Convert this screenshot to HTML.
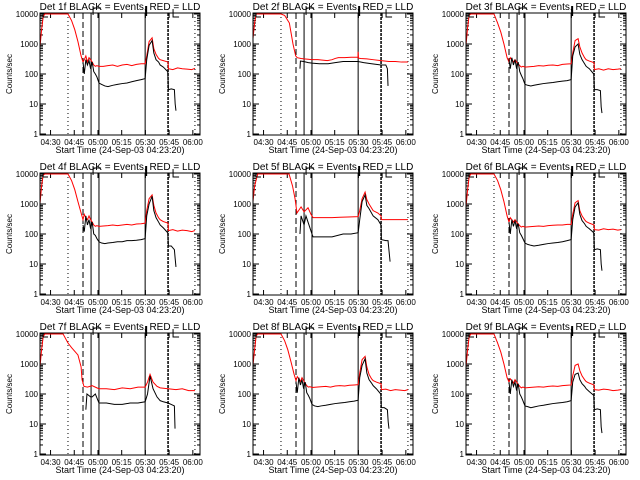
<!DOCTYPE html>
<html><head><meta charset="utf-8"><style>
html,body{margin:0;padding:0;background:#fff}
svg{display:block}
text{font-family:"Liberation Sans",sans-serif;fill:#000}
</style></head><body>
<svg id="chart" width="640" height="480" viewBox="0 0 640 480" xmlns="http://www.w3.org/2000/svg">
<rect width="640" height="480" fill="#fff"/>
</svg>
<script>
// time in minutes after 04:23:20
const xTickLabels = ["04:30","04:45","05:00","05:15","05:30","05:45","06:00"];
const xTickTimes = [6.67,21.67,36.67,51.67,66.67,81.67,96.67];
const yTickLabels = ["10000","1000","100","10","1"];
const yTickValues = [10000,1000,100,10,1];
const dottedMarks = [17.7, 98];
const dashedMarks = [27.2];
const solidMarks = [32.3, 37.3, 66.5];
const thickDottedMarks = [81];

const commonRedT = [0,1,2,3,17.7,20,22,24,26,27.2,28,29,30,31,32,33,34,35,36,37.3,40,43,46,49,52,55,58,61,64,66.5,67.5,69,70.9,72,73.4,75,76,78,81,81.2,84,87,90,93,96,98];
const commonBlkT = [27.2,28,29,30,31,32,33,34,35,36,37.3,39,41,43,46,49,52,55,58,61,64,66.5,67.5,69,70.9,72,73.4,75,76,78,80.8,81.2,83,85,85.5,86];

const p1RedV = [800,3000,8000,10000,10000,6000,3000,1200,400,250,300,400,250,350,300,250,200,180,190,180,180,190,200,180,200,210,190,210,220,220,400,1200,1600,700,450,330,300,280,250,150,140,160,150,145,140,155];
const p1BlkV = [250,100,300,200,280,150,250,120,100,80,50,45,40,38,42,45,48,50,55,60,65,70,300,900,1300,500,300,250,200,170,120,30,32,30,10,6];
const p3RedV = [900,3500,9000,10000,10000,5000,2500,1000,350,250,350,300,250,300,250,220,190,170,180,170,175,180,190,185,195,200,190,210,215,220,500,1300,1500,800,500,350,300,270,240,140,150,135,150,140,145,150];
const p3BlkV = [300,150,350,200,300,150,250,120,90,70,45,42,40,42,45,48,50,52,55,58,60,65,400,800,1000,450,300,220,180,150,100,30,30,28,8,5];
const p4RedV = [1000,4000,9000,10000,10000,6000,3000,1200,500,300,450,350,300,400,300,250,200,180,190,180,185,190,200,190,200,210,200,215,220,230,600,1500,2000,900,500,350,300,260,230,130,140,125,135,130,120,130];
const p4BlkV = [200,120,400,200,300,150,250,100,90,70,55,50,48,50,52,55,55,60,60,62,65,70,400,1000,1800,600,350,250,200,160,110,40,40,30,15,8];
const p6RedV = [800,3000,8000,10000,10000,6000,3000,1200,400,250,350,300,250,300,250,220,190,170,180,170,175,180,185,180,190,195,200,200,210,210,450,1100,1300,600,400,300,260,230,200,140,135,150,140,145,135,140];
const p6BlkV = [250,100,300,180,280,150,220,110,90,70,50,45,42,40,42,45,48,50,52,55,60,65,300,800,1100,450,280,220,180,150,110,30,32,30,10,6];
const p8RedV = [900,3000,8500,10000,10000,6000,3000,1200,450,280,380,320,260,350,280,230,190,170,175,165,170,175,180,170,185,190,185,195,200,205,500,1400,1800,800,450,320,280,250,220,140,145,130,140,135,130,140];
const p8BlkV = [250,110,350,200,300,150,250,110,90,70,45,40,38,40,42,45,48,50,52,55,58,62,350,900,1500,500,300,230,190,150,100,35,35,30,12,7];
const p9RedV = [800,3000,8000,10000,10000,5000,2500,1000,350,250,320,280,230,300,250,210,180,160,170,160,165,170,175,170,180,185,180,190,195,200,400,900,1000,600,400,300,260,230,200,140,135,145,140,130,135,140];
const p9BlkV = [250,100,300,180,250,130,220,100,80,60,40,38,35,37,40,42,45,48,50,52,55,60,250,450,500,300,220,180,150,120,90,30,32,30,8,5];

const p2RedT = [0,1,2,17.7,20,23,25.3,27,28,30.4,32.3,35,37.3,41,44,47,50,52,54,58,62,66.4,66.5,66.7,68,72,76,81,86,90,94,98];
const p2RedV = [1500,5000,10000,10000,9000,5000,1000,400,350,330,320,310,300,300,290,280,300,330,350,350,360,360,550,340,330,320,300,280,260,260,250,250];
const p2BlkT = [29.7,30,32,35,37.3,42,47.5,52,57,62,66.5,70,75,81,84,85,85.4];
const p2BlkV = [150,270,260,240,230,220,220,240,260,260,260,240,220,200,200,150,40];

const p5RedT = [0,1,3,22.8,25,26.6,27.8,30.4,32.3,34.8,36.7,38,45,50,55,60,66.5,67.5,69,70.9,72,73.4,76,79,81,81.2,90,98];
const p5RedV = [1200,4000,10000,10000,4000,1500,500,800,550,750,450,350,350,350,360,370,380,600,1500,2500,1400,1000,600,500,400,300,300,300];
const p5BlkT = [29.7,30.4,32.3,33.5,35.4,37.3,38,45,50,57,62,66.5,67.5,69,70.9,72,73.4,76,79,81,81.2,84,85.4,86.7];
const p5BlkV = [100,400,200,400,200,100,80,80,80,100,100,110,300,1200,2000,900,700,400,300,200,65,60,60,12];

const p7RedT = [0,1,2,3,14.6,17.7,20,24,26,26.6,27.8,30,33,36,37.3,42,47,52,57,62,66.5,68,69.6,71.5,74,76,81,86,90,94,98];
const p7RedV = [800,3000,8000,10000,10000,5000,3500,2000,800,300,180,170,190,160,150,150,140,160,150,170,170,250,450,250,180,160,150,140,150,130,130];
const p7BlkT = [29,29.7,32,33,35,37.3,42,47,52,57,62,66.5,68,69.6,71.5,74,76,78,81,83,85,85.4];
const p7BlkV = [30,100,80,80,100,50,50,45,45,50,50,55,100,400,150,80,60,55,50,45,40,7];

const panels = [
  {title:"Det 1f BLACK = Events, RED = LLD", rt:commonRedT, rv:p1RedV, bt:commonBlkT, bv:p1BlkV},
  {title:"Det 2f BLACK = Events, RED = LLD", rt:p2RedT, rv:p2RedV, bt:p2BlkT, bv:p2BlkV},
  {title:"Det 3f BLACK = Events, RED = LLD", rt:commonRedT, rv:p3RedV, bt:commonBlkT, bv:p3BlkV},
  {title:"Det 4f BLACK = Events, RED = LLD", rt:commonRedT, rv:p4RedV, bt:commonBlkT, bv:p4BlkV},
  {title:"Det 5f BLACK = Events, RED = LLD", rt:p5RedT, rv:p5RedV, bt:p5BlkT, bv:p5BlkV},
  {title:"Det 6f BLACK = Events, RED = LLD", rt:commonRedT, rv:p6RedV, bt:commonBlkT, bv:p6BlkV},
  {title:"Det 7f BLACK = Events, RED = LLD", rt:p7RedT, rv:p7RedV, bt:p7BlkT, bv:p7BlkV},
  {title:"Det 8f BLACK = Events, RED = LLD", rt:commonRedT, rv:p8RedV, bt:commonBlkT, bv:p8BlkV},
  {title:"Det 9f BLACK = Events, RED = LLD", rt:commonRedT, rv:p9RedV, bt:commonBlkT, bv:p9BlkV}
];

const NS = "http://www.w3.org/2000/svg";
const svg = document.getElementById("chart");
const L=40, R=200, T=13, B=135, TMAX=101.2;
function xs(t){return L + t*(R-L)/TMAX;}
function ys(v){return (B-1) - Math.log10(Math.max(v,1))*30;}
function mk(tag, attrs, parent){
  const e=document.createElementNS(NS,tag);
  for(const k in attrs) e.setAttribute(k,attrs[k]);
  parent.appendChild(e); return e;
}

panels.forEach((p,i)=>{
  const ox=(i%3)*213, oy=Math.floor(i/3)*160;
  const g=mk("g",{transform:`translate(${ox},${oy})`},svg);
  
  
  const clipId="clip"+i;
  const cp=mk("clipPath",{id:clipId},g);
  mk("rect",{x:L,y:T,width:R-L,height:B-T},cp);

  const title=mk("text",{x:120,y:10,"font-size":"10","text-anchor":"middle"},g);
  title.textContent=p.title;
  
  

  const yt=mk("text",{x:0,y:0,"font-size":"8","text-anchor":"middle",transform:`translate(12,${(T+B)/2}) rotate(-90)`},g);
  yt.textContent="Counts/sec";
  
  

  const xt=mk("text",{x:120,y:153,"font-size":"9","text-anchor":"middle"},g);
  xt.textContent="Start Time (24-Sep-03 04:23:20)";
  
  

  yTickValues.forEach((v,k)=>{
    const y=ys(v);
    const t=mk("text",{x:38,y:y+3,"font-size":"8","text-anchor":"end"},g);
    t.textContent=yTickLabels[k];
    
    
    mk("line",{x1:L,x2:L+6,y1:y,y2:y,stroke:"#000"},g);
    mk("line",{x1:R-6,x2:R,y1:y,y2:y,stroke:"#000"},g);
    if(v<10000){for(let m=2;m<10;m++){const yy=ys(v*m);
      mk("line",{x1:L,x2:L+3,y1:yy,y2:yy,stroke:"#000"},g);
      mk("line",{x1:R-3,x2:R,y1:yy,y2:yy,stroke:"#000"},g);}}
  });
  xTickTimes.forEach((tt,k)=>{
    const x=xs(tt);
    const t=mk("text",{x:x,y:145,"font-size":"8","text-anchor":"middle"},g);
    t.textContent=xTickLabels[k];
    
    
    mk("line",{x1:x,x2:x,y1:B,y2:B-5,stroke:"#000"},g);
    mk("line",{x1:x,x2:x,y1:T,y2:T+5,stroke:"#000"},g);
  });

  const cg=mk("g",{"clip-path":`url(#${clipId})`},g);
  dottedMarks.forEach(t=>mk("line",{x1:xs(t),x2:xs(t),y1:T,y2:B,stroke:"#000","stroke-dasharray":"1,3"},cg));
  dashedMarks.forEach(t=>mk("line",{x1:xs(t),x2:xs(t),y1:T,y2:B,stroke:"#000","stroke-dasharray":"6,3"},cg));
  solidMarks.forEach(t=>mk("line",{x1:xs(t),x2:xs(t),y1:T,y2:B,stroke:"#000"},cg));
  thickDottedMarks.forEach(t=>mk("line",{x1:xs(t),x2:xs(t),y1:T,y2:B,stroke:"#000","stroke-width":"1.5","stroke-dasharray":"3,1"},cg));

  const red=mk("polyline",{points:p.rt.map((t,k)=>xs(t)+","+ys(p.rv[k])).join(" "),fill:"none",stroke:"#ff0000","stroke-width":"1"},cg);
  
  
  const blk=mk("polyline",{points:p.bt.map((t,k)=>xs(t)+","+ys(p.bv[k])).join(" "),fill:"none",stroke:"#000","stroke-width":"1"},cg);
  
  

  // top markers
  mk("path",{d:`M${L+3},${T+4} L${L+3},${T} L${L+9},${T} M${L+3},${T+4} L${L+8},${T+4}`,fill:"none",stroke:"#000"},g);
  mk("path",{d:`M${xs(32.3)+2},${T-7} L${xs(32.3)+2},${T+2} M${xs(32.3)+2},${T-5} L${xs(32.3)+10},${T-5}`,fill:"none",stroke:"#000"},g);
  mk("path",{d:`M${xs(66.5)+1},${T-7} L${xs(66.5)+1},${T+3}`,fill:"none",stroke:"#000","stroke-width":"2"},g);
  mk("path",{d:`M${xs(81)+5},${T-4} L${xs(81)+5},${T+4} L${xs(81)+11},${T+4}`,fill:"none",stroke:"#000"},g);

  const frame=mk("rect",{x:L,y:T,width:R-L,height:B-T,fill:"none",stroke:"#000","stroke-width":"1"},g);
  
  
});
</script>
</body></html>
